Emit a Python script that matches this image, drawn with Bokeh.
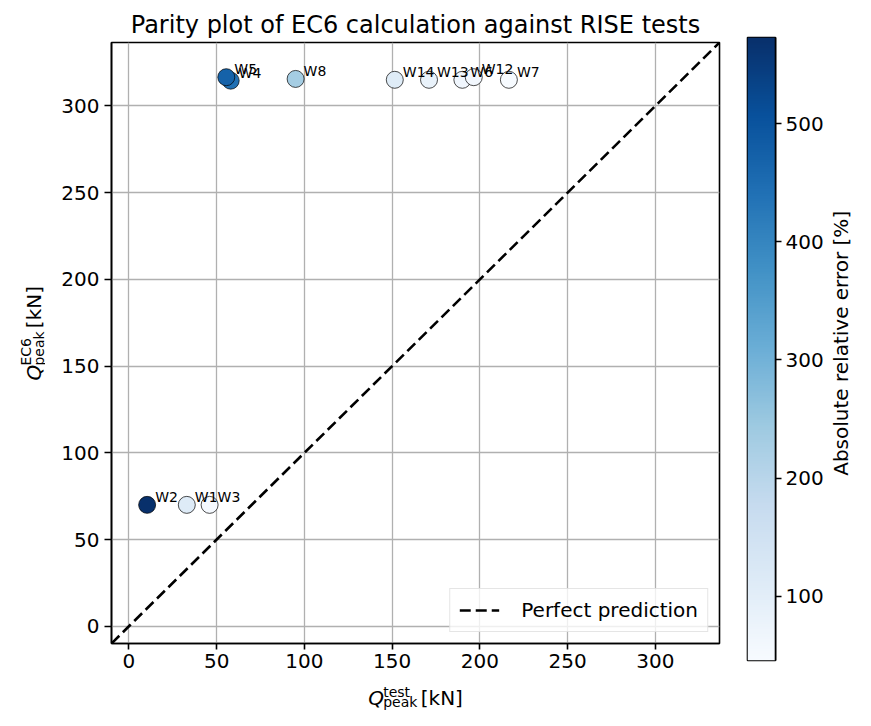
import numpy as np
from bokeh.plotting import figure
from bokeh.models import ColumnDataSource, LinearColorMapper, Range1d, FixedTicker
from bokeh.palettes import Blues256
from bokeh.layouts import row, column
from bokeh.core.properties import value
from bokeh.embed import file_html
from bokeh.resources import INLINE

# ---------------- data ----------------
wall_names = ["W1", "W2", "W3", "W4", "W5", "W6", "W7", "W8", "W12", "W13", "W14"]
q_test = [33.0, 10.4, 46.0, 58.0, 55.5, 190.0, 216.5, 95.0, 196.5, 171.0, 151.5]
q_ec6 = [70.0, 70.0, 70.0, 314.5, 316.5, 315.0, 315.0, 315.5, 316.5, 315.0, 315.0]
axis_limits = [-9.9, 336.5]
axis_ticks = [0, 50, 100, 150, 200, 250, 300]
cbar_ticks = [100, 200, 300, 400, 500]

FONT = "DejaVu Sans"
err = np.abs(np.array(q_ec6) - np.array(q_test)) / np.array(q_test) * 100.0
e_lo, e_hi = float(err.min()), float(err.max())
mapper = LinearColorMapper(palette=list(reversed(Blues256)), low=e_lo, high=e_hi)
src = ColumnDataSource(dict(name=wall_names, test=q_test, ec6=q_ec6, err=err))
lo, hi = axis_limits

# ---------------- layout sizes ----------------
YL_W = 45                  # y-label strip
M_W, M_H = 696, 677        # main figure
XL_H = 33                  # x-label strip
CB_W, CB_H = 85, 710       # colour bar figure
CL_W = 29                  # colour bar label strip


def style_axis(ax, tick_out=7, standoff=5):
    ax.major_label_text_font = FONT
    ax.major_label_text_font_size = "20px"
    ax.major_label_text_color = "black"
    ax.axis_line_color = "black"
    ax.axis_line_width = 1.6
    ax.major_tick_line_color = "black"
    ax.major_tick_line_width = 1.6
    ax.major_tick_out = tick_out
    ax.major_tick_in = 0
    ax.minor_tick_line_color = None
    ax.major_label_standoff = standoff


def strip(w, h):
    f = figure(width=w, height=h, x_range=Range1d(0, w), y_range=Range1d(0, h),
               x_axis_type=None, y_axis_type=None, toolbar_location=None,
               output_backend="svg", min_border=0)
    f.outline_line_color = None
    f.grid.visible = False
    return f


def put(f, x, y, text, size, style="normal", angle=0.0, align="left"):
    f.text(x=[x], y=[y], text=[text], angle=angle, text_font=value(FONT),
           text_font_size=size, text_font_style=style, text_color="black",
           text_align=align, text_baseline="alphabetic")


# ---------------- main plot ----------------
p = figure(width=M_W, height=M_H, x_range=Range1d(lo, hi), y_range=Range1d(lo, hi),
           min_border_left=66, min_border_right=22, min_border_top=42, min_border_bottom=34,
           toolbar_location=None, output_backend="svg",
           title="Parity plot of EC6 calculation against RISE tests")
p.title.text_font = FONT
p.title.text_font_size = "24px"
p.title.text_font_style = "normal"
p.title.text_color = "black"
p.title.align = "center"
p.title.standoff = 7

p.yaxis.ticker = FixedTicker(ticks=axis_ticks)
style_axis(p.yaxis, 7, 5)
p.xaxis.ticker = FixedTicker(ticks=axis_ticks)
style_axis(p.xaxis, 6, 4)

p.grid.grid_line_color = "#b0b0b0"
p.grid.grid_line_width = 1.3
p.outline_line_color = "black"
p.outline_line_width = 1.6
p.outline_line_alpha = 1

p.line(x=axis_limits, y=axis_limits, line_color="black", line_width=2.6, line_dash="11 5",
       legend_label="Perfect prediction")
p.scatter(x="test", y="ec6", source=src, size=17,
          fill_color={"field": "err", "transform": mapper},
          line_color="black", line_width=0.7)
p.text(x="test", y="ec6", text="name", source=src, x_offset=8, y_offset=-8,
       text_font=value(FONT), text_font_size="14px", text_color="black",
       text_baseline="alphabetic", text_align="left")

lg = p.legend[0]
lg.location = "bottom_right"
lg.margin = 11
lg.padding = 9
lg.spacing = 0
lg.glyph_width = 40
lg.glyph_height = 20
lg.label_height = 20
lg.label_standoff = 22
lg.label_text_font = FONT
lg.label_text_font_size = "20px"
lg.label_text_color = "black"
lg.border_line_color = "#cccccc"
lg.border_line_width = 1.4
lg.background_fill_alpha = 0.8

# ---------------- x label strip: Q_peak^test [kN] ----------------
xl = strip(M_W, XL_H)
put(xl, 294, 13, "Q", "20px", "italic")
put(xl, 311, 19, "test", "14px")
put(xl, 311, 9, "peak", "14px")
put(xl, 354, 13, "[kN]", "20px")

# ---------------- y label strip: Q_peak^EC6 [kN] ----------------
A = np.pi / 2
yl = strip(YL_W, M_H)
put(yl, 33, 283.5, "Q", "20px", "italic", A)
put(yl, 25, 300.5, "EC6", "14px", "normal", A)
put(yl, 38, 300.5, "peak", "14px", "normal", A)
put(yl, 33, 343.5, "[kN]", "20px", "normal", A)

# ---------------- colour bar ----------------
cb = figure(width=CB_W, height=CB_H, x_range=Range1d(0, 1), y_range=Range1d(e_lo, e_hi),
            x_axis_type=None, y_axis_location="right",
            min_border_left=6, min_border_right=48, min_border_top=37, min_border_bottom=50,
            toolbar_location=None, output_backend="svg")
grad = np.linspace(e_lo, e_hi, 256).reshape(256, 1)
cb.image(image=[grad], x=0, y=e_lo, dw=1, dh=e_hi - e_lo, color_mapper=mapper)
cb.grid.visible = False
cb.outline_line_color = "black"
cb.outline_line_width = 1.6
cb.outline_line_alpha = 1
cb.yaxis.ticker = FixedTicker(ticks=cbar_ticks)
style_axis(cb.yaxis, 6, 4)

cl = strip(CL_W, CB_H)
put(cl, 14, CB_H - 348.5, "Absolute relative error [%]", "20px", "normal", A, "center")

layout = row(yl, column(p, xl, spacing=0), cb, cl, spacing=0)
open("out.html", "w").write(file_html(layout, INLINE))
